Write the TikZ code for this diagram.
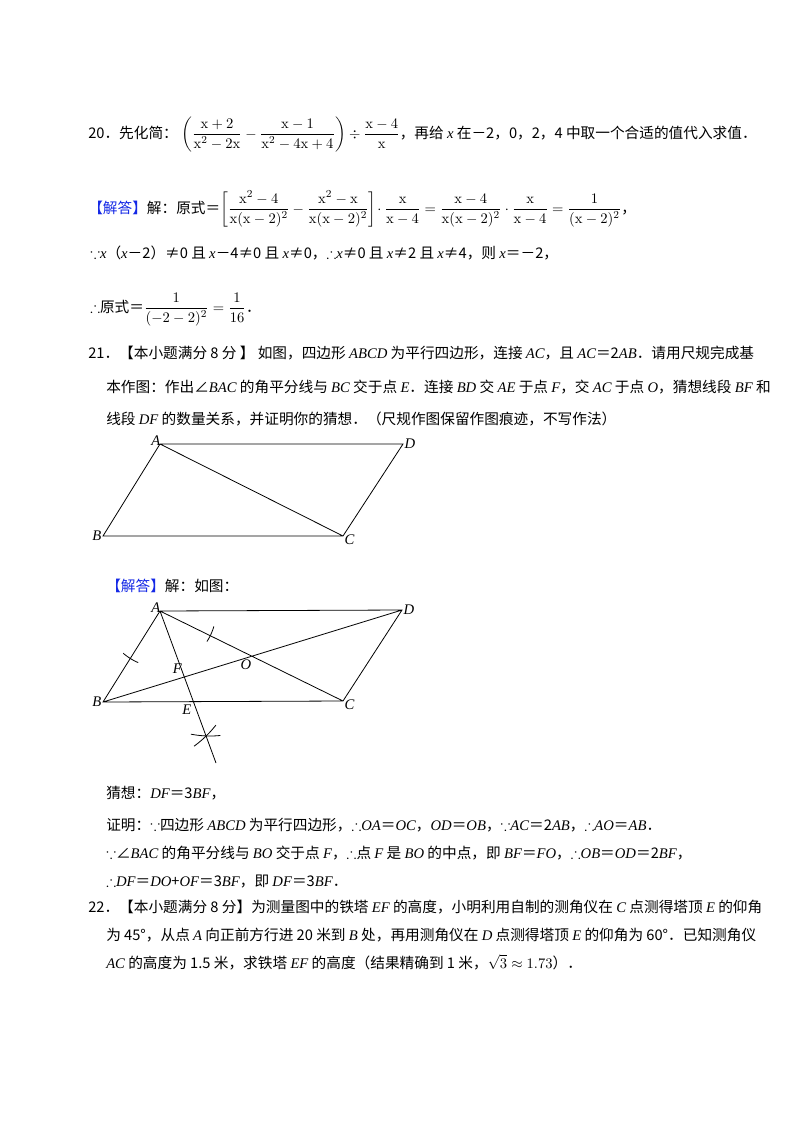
\documentclass[tikz,border=0pt]{standalone}
\usepackage{amsmath,amssymb}
\usepackage[no-math]{fontspec}
\setmainfont{Noto Sans CJK SC}
\newfontfamily\lat{Liberation Serif}
\usetikzlibrary{calc}
\definecolor{ansblue}{RGB}{20,40,230}
\newcommand{\mv}[1]{{\lat\itshape #1}}
\begin{document}
\begin{tikzpicture}[x=0.75pt,y=-0.75pt,
  txt/.style={anchor=base west,inner sep=0pt,font=\fontsize{11}{14}\selectfont},
  seg/.style={line width=0.6pt},
  lbl/.style={inner sep=1pt,font=\fontsize{11}{13}\selectfont\lat\itshape}]
\useasboundingbox[fill=white] (0,0) rectangle (800,1132);
% ---------- 20 ----------
\node[txt] (l20) at (88,138) {20．先化简：\ $\left(\dfrac{\mathrm{x+2}}{\mathrm{x^2-2x}}-\dfrac{\mathrm{x-1}}{\mathrm{x^2-4x+4}}\right)\div\dfrac{\mathrm{x-4}}{\mathrm{x}}$，再给 \mv{x} 在－2，0，2，4 中取一个合适的值代入求值．};
\node[txt] (l20a) at (88,213) {{\color{ansblue}【解答】}解：原式＝$\left[\dfrac{\mathrm{x^2-4}}{\mathrm{x(x-2)^2}}-\dfrac{\mathrm{x^2-x}}{\mathrm{x(x-2)^2}}\right]\!\cdot\dfrac{\mathrm{x}}{\mathrm{x-4}}=\dfrac{\mathrm{x-4}}{\mathrm{x(x-2)^2}}\cdot\dfrac{\mathrm{x}}{\mathrm{x-4}}=\dfrac{1}{\mathrm{(x-2)^2}}$，};
\node[txt] (l20b) at (90,258) {$\because$\mv{x}（\mv{x}－2）≠0 且 \mv{x}－4≠0 且 \mv{x}≠0，$\therefore$\mv{x}≠0 且 \mv{x}≠2 且 \mv{x}≠4，则 \mv{x}＝－2，};
\node[txt] (l20c) at (90,312) {$\therefore$原式＝$\dfrac{1}{(-2-2)^2}=\dfrac{1}{16}$．};
% ---------- 21 ----------
\node[txt] (l21) at (88,358) {21．【本小题满分 8 分 】 如图，四边形 \mv{ABCD} 为平行四边形，连接 \mv{AC}，且 \mv{AC}＝2\mv{AB}．请用尺规完成基};
\node[txt] (l21a) at (106,392) {本作图：作出∠\mv{BAC} 的角平分线与 \mv{BC} 交于点 \mv{E}．连接 \mv{BD} 交 \mv{AE} 于点 \mv{F}，交 \mv{AC} 于点 \mv{O}，猜想线段 \mv{BF} 和};
\node[txt] (l21b) at (106,424) {线段 \mv{DF} 的数量关系，并证明你的猜想．（尺规作图保留作图痕迹，不写作法）};
% figure 1
\coordinate (A1) at (160,444); \coordinate (D1) at (403,444);
\coordinate (B1) at (103,536); \coordinate (C1) at (343,536);
\draw[seg] (A1)--(D1)--(C1)--(B1)--cycle (A1)--(C1);
\node[lbl,anchor=south east] (nA1) at ($(A1)+(2,3)$) {A};
\node[lbl,anchor=west] (nD1) at (D1) {D};
\node[lbl,anchor=east] (nB1) at (B1) {B};
\node[lbl,anchor=north west] (nC1) at ($(C1)+(0,-3)$) {C};
% ---------- answer ----------
\node[txt] (l21c) at (106,591) {{\color{ansblue}【解答】}解：如图：};
\coordinate (A) at (160,611); \coordinate (D) at (402,610);
\coordinate (B) at (103,702); \coordinate (C) at (343,701);
\coordinate (E) at (193,701); \coordinate (T) at (216,763);
\coordinate (O) at (intersection of A--C and B--D);
\coordinate (F) at (intersection of A--T and B--D);
\draw[seg] (A)--(D)--(C)--(B)--cycle (A)--(C) (B)--(D) (A)--(T);
\draw[seg] plot[domain=113:131,samples=20] ({160+56*cos(\x)},{611+56*sin(\x)});
\draw[seg] plot[domain=16:33,samples=20] ({160+56*cos(\x)},{611+56*sin(\x)});
\draw[seg] plot[domain=38:54,samples=20] ({130+109*cos(\x)},{658+109*sin(\x)});
\draw[seg] plot[domain=84:101,samples=20] ({210+100*cos(\x)},{636+100*sin(\x)});
\node[lbl,anchor=south east] (nA) at ($(A)+(2,3)$) {A};
\node[lbl,anchor=west] (nD) at (D) {D};
\node[lbl,anchor=east] (nB) at (B) {B};
\node[lbl,anchor=north west] (nC) at ($(C)+(0,-3)$) {C};
\node[lbl,anchor=north east] (nE) at ($(E)+(0,2)$) {E};
\node[lbl,anchor=south east] (nF) at ($(F)+(-1,-2)$) {F};
\node[lbl,anchor=north] (nO) at ($(O)+(-6,2)$) {O};
\node[txt] (l1) at (106,798) {猜想：\mv{DF}＝3\mv{BF}，};
\node[txt] (l2) at (106,830) {证明：$\because$四边形 \mv{ABCD} 为平行四边形，$\therefore$\mv{OA}＝\mv{OC}，\mv{OD}＝\mv{OB}，$\because$\mv{AC}＝2\mv{AB}，$\therefore$\mv{AO}＝\mv{AB}．};
\node[txt] (l3) at (106,858) {$\because$∠\mv{BAC} 的角平分线与 \mv{BO} 交于点 \mv{F}，$\therefore$点 \mv{F} 是 \mv{BO} 的中点，即 \mv{BF}＝\mv{FO}，$\therefore$\mv{OB}＝\mv{OD}＝2\mv{BF}，};
\node[txt] (l4) at (106,886) {$\therefore$\mv{DF}＝\mv{DO}+\mv{OF}＝3\mv{BF}，即 \mv{DF}＝3\mv{BF}．};
% ---------- 22 ----------
\node[txt] (l22) at (88,912) {22．【本小题满分 8 分】为测量图中的铁塔 \mv{EF} 的高度，小明利用自制的测角仪在 \mv{C} 点测得塔顶 \mv{E} 的仰角};
\node[txt] (l22a) at (106,940) {为 45°，从点 \mv{A} 向正前方行进 20 米到 \mv{B} 处，再用测角仪在 \mv{D} 点测得塔顶 \mv{E} 的仰角为 60°．已知测角仪};
\node[txt] (l22b) at (106,968) {\mv{AC} 的高度为 1.5 米，求铁塔 \mv{EF} 的高度（结果精确到 1 米，$\sqrt{3}\approx 1.73$）．};
\end{tikzpicture}
\end{document}
